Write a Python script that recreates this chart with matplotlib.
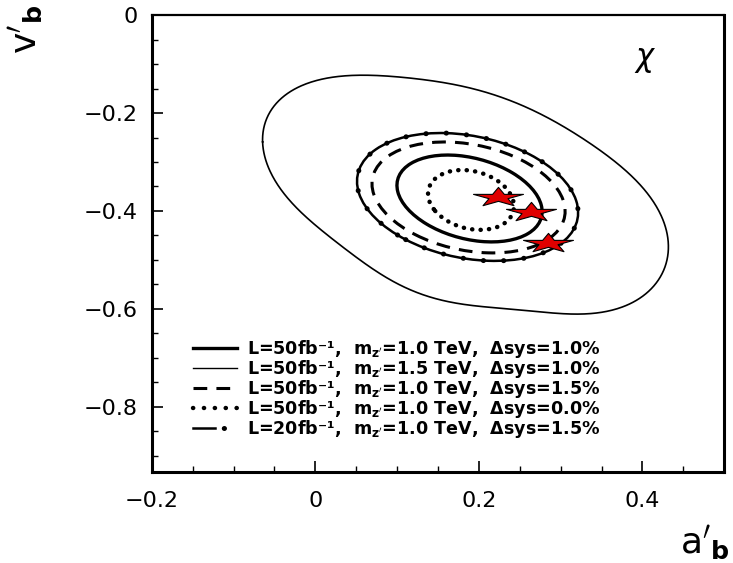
import numpy as np
import matplotlib
matplotlib.use("Agg")
import matplotlib.pyplot as plt
from matplotlib.patches import Ellipse
from matplotlib.path import Path
from matplotlib.lines import Line2D
from matplotlib.legend_handler import HandlerTuple
from matplotlib.ticker import MultipleLocator

plt.rcParams['font.family'] = ['DejaVu Sans']
plt.rcParams['mathtext.fontset'] = 'dejavusans'

# Outer 1.5 TeV contour (a'_b, v'_b), traced around the closed curve
outer_a = [-0.065, -0.062, -0.052, -0.031, -0.010, 0.051, 0.112, 0.173, 0.201,
           0.263, 0.324, 0.364, 0.385, 0.406, 0.422, 0.430, 0.432, 0.428,
           0.418, 0.397, 0.373, 0.345, 0.283, 0.201, 0.137, 0.030, -0.010,
           -0.031, -0.052, -0.064]
outer_v = [-0.261, -0.296, -0.322, -0.378, -0.412, -0.500, -0.555, -0.588, -0.596,
           -0.606, -0.608, -0.602, -0.588, -0.567, -0.541, -0.506, -0.473, -0.433,
           -0.392, -0.351, -0.310, -0.269, -0.208, -0.157, -0.129, -0.129, -0.139,
           -0.157, -0.184, -0.229]

# Elliptical contours: centre, full width, full height, tilt (deg)
ell_names = ["sys10", "sys15", "sys00", "L20"]
ell_cx = [0.1886, 0.1874, 0.1904, 0.1862]
ell_cy = [-0.3745, -0.3724, -0.3776, -0.3714]
ell_w = [0.2026, 0.2590, 0.1278, 0.2968]
ell_h = [0.1482, 0.2002, 0.0984, 0.2308]
ell_ang = [-45.0, -40.3, -63.0, -41.0]

# Model points (stars)
star_a = [0.2235, 0.2639, 0.2847]
star_v = [-0.3714, -0.4020, -0.4650]

labels = [
    r"L=50fb⁻¹,  m$_{\mathbf{z}'}$=1.0 TeV,  Δsys=1.0%",
    r"L=50fb⁻¹,  m$_{\mathbf{z}'}$=1.5 TeV,  Δsys=1.0%",
    r"L=50fb⁻¹,  m$_{\mathbf{z}'}$=1.0 TeV,  Δsys=1.5%",
    r"L=50fb⁻¹,  m$_{\mathbf{z}'}$=1.0 TeV,  Δsys=0.0%",
    r"L=20fb⁻¹,  m$_{\mathbf{z}'}$=1.0 TeV,  Δsys=1.5%",
]


def smooth_closed(xs, ys, order=6, n=800, xscale=1.67):
    """Smooth closed curve through traced points (low-order Fourier in x and y
    against normalised arc length)."""
    x = np.asarray(xs) * xscale
    y = np.asarray(ys)
    seg = np.hypot(np.diff(np.r_[x, x[0]]), np.diff(np.r_[y, y[0]]))
    s = 2 * np.pi * np.r_[0.0, np.cumsum(seg)[:-1]] / seg.sum()
    k = np.arange(1, order + 1)

    def basis(t):
        return np.column_stack([np.ones_like(t)] +
                               [np.cos(kk * t) for kk in k] +
                               [np.sin(kk * t) for kk in k])
    cxf, *_ = np.linalg.lstsq(basis(s), x, rcond=None)
    cyf, *_ = np.linalg.lstsq(basis(s), y, rcond=None)
    tt = np.linspace(0, 2 * np.pi, n)
    return (basis(tt) @ cxf) / xscale, basis(tt) @ cyf


fig = plt.figure(figsize=(7.33, 5.63), dpi=100)
ax = fig.add_axes([0.207, 0.162, 0.781, 0.811])

ax.set_xlim(-0.2, 0.5)
ax.set_ylim(-0.933, 0.0)

# thin outer contour
oa, ov = smooth_closed(outer_a, outer_v)
ax.plot(oa, ov, color="black", lw=1.2)

DOTS = (0, (0.05, 1.85))
BEADS = (0, (0.05, 4.0))
DASH = (0, (4.5, 3.0))
styles = {
    "sys10": [dict(lw=2.4, linestyle="-")],
    "sys15": [dict(lw=2.2, linestyle=DASH)],
    "sys00": [dict(lw=3.2, linestyle=DOTS, capstyle="round")],
    "L20": [dict(lw=1.8, linestyle="-"),
            dict(lw=3.6, linestyle=BEADS, capstyle="round")],
}
for name, cx, cy, w, h, ang in zip(ell_names, ell_cx, ell_cy, ell_w, ell_h, ell_ang):
    for st in styles[name]:
        e = Ellipse((cx, cy), w, h, angle=ang, fill=False, color="black", **st)
        ax.add_patch(e)

# flattened five-point star marker
t = np.deg2rad(90 + 72 * np.arange(5))
ti = t + np.deg2rad(36)
pts = []
for a_o, a_i in zip(t, ti):
    pts.append((np.cos(a_o), np.sin(a_o)))
    pts.append((0.38 * np.cos(a_i), 0.38 * np.sin(a_i)))
pts = np.array(pts)
pts[:, 0] *= 2.6
star_path = Path(np.vstack([pts, pts[:1]]), closed=True)
ax.plot(star_a, star_v, linestyle="none", marker=star_path, markersize=36,
        markerfacecolor="#e00000", markeredgecolor="black", markeredgewidth=0.8,
        zorder=5)

ax.text(0.403, -0.092, r"$\chi$", fontsize=22, ha="center", va="center")

# legend
h1 = Line2D([], [], color="black", lw=2.4)
h2 = Line2D([], [], color="black", lw=1.0)
h3 = Line2D([], [], color="black", lw=2.2, linestyle=DASH)
h4 = Line2D([], [], color="black", lw=3.2, linestyle=(0, (0.05, 2.4)),
            dash_capstyle="round")
h5a = Line2D([], [], color="black", lw=1.8)
h5b = Line2D([], [], color="black", lw=3.6, linestyle=(1.5, (0.05, 3.2)),
             dash_capstyle="round")
leg = ax.legend([h1, h2, h3, h4, (h5a, h5b)], labels,
                handler_map={tuple: HandlerTuple(ndivide=None, pad=0)},
                loc="lower left", bbox_to_anchor=(0.072, 0.07),
                frameon=False, prop=dict(size=12.6, weight="bold"),
                handlelength=2.5, handletextpad=0.6, labelspacing=-0.12,
                borderpad=0, borderaxespad=0)

# axes styling
for sp in ax.spines.values():
    sp.set_linewidth(2.2)
ax.spines["top"].set_linewidth(1.6)
ax.xaxis.set_major_locator(MultipleLocator(0.2))
ax.xaxis.set_minor_locator(MultipleLocator(0.05))
ax.yaxis.set_major_locator(MultipleLocator(0.2))
ax.yaxis.set_minor_locator(MultipleLocator(0.05))
ax.tick_params(which="both", direction="in", labelsize=16)
ax.tick_params(which="major", length=8, width=1.2)
ax.tick_params(which="minor", length=4, width=1.0)
ax.tick_params(axis="x", which="major", pad=14)
ax.tick_params(axis="y", which="major", pad=10)

ax.set_xticks([-0.2, 0, 0.2, 0.4])
ax.set_xticklabels(["−0.2", "0", "0.2", "0.4"])
ax.set_yticks([0, -0.2, -0.4, -0.6, -0.8])
ax.set_yticklabels(["0", "−0.2", "−0.4", "−0.6", "−0.8"])

fig.text(0.036, 0.948, r"$\mathrm{v}'_{\mathbf{b}}$", fontsize=26, rotation=90,
         ha="center", va="center")
fig.text(0.962, 0.036, r"$\mathrm{a}'_{\mathbf{b}}$", fontsize=26,
         ha="center", va="center")

fig.savefig("out.png", dpi=100)
